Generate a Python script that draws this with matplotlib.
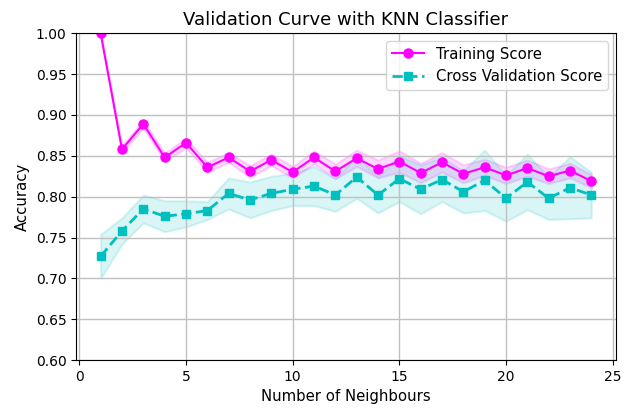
import numpy as np
import matplotlib
matplotlib.use('Agg')
import matplotlib.pyplot as plt

# ==========================================
# Data
# ==========================================
neighbours = np.arange(1, 25)

train_mean = [1.000, 0.858, 0.889, 0.848, 0.866, 0.836, 0.848, 0.831,
              0.845, 0.830, 0.848, 0.831, 0.847, 0.834, 0.843, 0.829,
              0.842, 0.828, 0.836, 0.826, 0.835, 0.825, 0.832, 0.819]
train_std = [0.000, 0.004, 0.005, 0.005, 0.006, 0.006, 0.006, 0.007,
             0.007, 0.007, 0.008, 0.009, 0.010, 0.011, 0.013, 0.012,
             0.012, 0.011, 0.010, 0.010, 0.010, 0.009, 0.009, 0.008]

cv_mean = [0.727, 0.758, 0.785, 0.776, 0.779, 0.783, 0.804, 0.796,
           0.804, 0.809, 0.813, 0.802, 0.824, 0.802, 0.822, 0.809,
           0.821, 0.806, 0.820, 0.798, 0.818, 0.798, 0.811, 0.802]
cv_std = [0.027, 0.016, 0.017, 0.019, 0.016, 0.011, 0.019, 0.022,
          0.021, 0.020, 0.024, 0.020, 0.026, 0.022, 0.028, 0.030,
          0.027, 0.026, 0.037, 0.028, 0.034, 0.026, 0.038, 0.028]

train_mean = np.array(train_mean)
train_std = np.array(train_std)
cv_mean = np.array(cv_mean)
cv_std = np.array(cv_std)

# ==========================================
# Plot
# ==========================================
fig = plt.figure(figsize=(6.24, 4.11), dpi=100)
ax = fig.add_axes([0.122, 0.124, 0.865, 0.795])

ax.plot(neighbours, train_mean, marker='o', color='magenta', markersize=6.5,
        linewidth=1.5, label='Training Score')
ax.fill_between(neighbours, train_mean - train_std, train_mean + train_std,
                color='magenta', alpha=0.15, linewidth=1.5)

ax.plot(neighbours, cv_mean, marker='s', linestyle='--', color='c',
        markersize=6, linewidth=2, label='Cross Validation Score')
ax.fill_between(neighbours, cv_mean - cv_std, cv_mean + cv_std,
                color='c', alpha=0.15, linewidth=1.5)

ax.set_title('Validation Curve with KNN Classifier', fontsize=13)
ax.set_xlabel('Number of Neighbours', fontsize=10.7)
ax.set_ylabel('Accuracy', fontsize=10.7)
ax.set_ylim(0.6, 1.0)
ax.set_xticks([0, 5, 10, 15, 20, 25])
ax.tick_params(labelsize=10)
ax.grid(True, color='#c0c0c0', linewidth=1)
ax.legend(loc='upper right', fontsize=10.7, handlelength=2.2)

plt.savefig('out.png', dpi=100)
